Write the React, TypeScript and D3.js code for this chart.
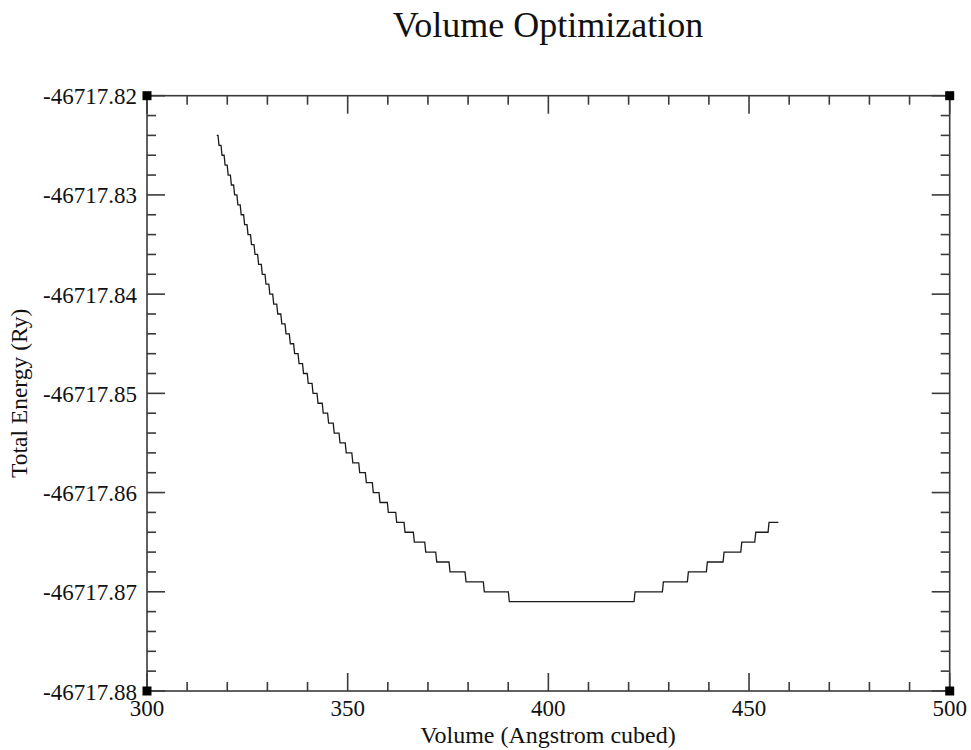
import React from "react";
import * as d3 from "d3";

// ---- data ----
const title = "Volume Optimization";
const xLabel = "Volume (Angstrom cubed)";
const yLabel = "Total Energy (Ry)";

const xDomain = [300, 500];
const yDomain = [-46717.88, -46717.82];
const xMajorTicks = [300, 350, 400, 450, 500];
const yMajorTicks = [-46717.88, -46717.87, -46717.86, -46717.85, -46717.84, -46717.83, -46717.82];

// energy level of each plateau of the (0.001 Ry quantised) curve
const levelEnergies = [
  -46717.824, -46717.825, -46717.826, -46717.827, -46717.828, -46717.829,
  -46717.83, -46717.831, -46717.832, -46717.833, -46717.834, -46717.835,
  -46717.836, -46717.837, -46717.838, -46717.839, -46717.84, -46717.841,
  -46717.842, -46717.843, -46717.844, -46717.845, -46717.846, -46717.847,
  -46717.848, -46717.849, -46717.85, -46717.851, -46717.852, -46717.853,
  -46717.854, -46717.855, -46717.856, -46717.857, -46717.858, -46717.859,
  -46717.86, -46717.861, -46717.862, -46717.863, -46717.864, -46717.865,
  -46717.866, -46717.867, -46717.868, -46717.869, -46717.87, -46717.871,
  -46717.87, -46717.869, -46717.868, -46717.867, -46717.866, -46717.865,
  -46717.864, -46717.863,
];
// volume where each plateau begins
const levelStartVolumes = [
  317.37, 317.94, 318.69, 319.46, 320.23, 321.03,
  321.83, 322.65, 323.47, 324.32, 325.17, 326.04,
  326.91, 327.81, 328.73, 329.65, 330.6, 331.57,
  332.57, 333.59, 334.64, 335.71, 336.78, 337.88,
  339.0, 340.17, 341.37, 342.61, 343.91, 345.25,
  346.65, 348.09, 349.64, 351.28, 353.0, 354.65,
  356.39, 358.06, 360.13, 362.22, 364.29, 366.61,
  369.45, 372.19, 375.5, 379.49, 384.05, 390.28,
  421.6, 428.66, 434.89, 439.62, 443.78, 448.19,
  451.68, 454.99,
];
const lastVolume = 457.31;
const volumeSpacing = 0.25; // sampling step of the source data

// ---- layout ----
const W = 971;
const H = 750;
const left = 147;
const right = 949.7;
const top = 95.7;
const bottom = 691;
const serif = "'Liberation Serif', 'Times New Roman', serif";

export default function App() {
  const x = d3.scaleLinear().domain(xDomain).range([left, right]);
  const y = d3.scaleLinear().domain(yDomain).range([bottom, top]);

  const pts: [number, number][] = [];
  levelEnergies.forEach((e, i) => {
    const start = levelStartVolumes[i];
    const end = i < levelEnergies.length - 1 ? levelStartVolumes[i + 1] - volumeSpacing : lastVolume;
    pts.push([start, e]);
    pts.push([end, e]);
  });
  const line = d3
    .line<[number, number]>()
    .x((d) => x(d[0]))
    .y((d) => y(d[1]))
    .curve(d3.curveLinear);

  const xMinor = d3.range(300, 501, 10).filter((v) => v % 50 !== 0);
  const yMinorIdx = d3.range(0, 31).filter((i) => i % 5 !== 0); // 0.002 steps
  const yMinor = yMinorIdx.map((i) => yDomain[0] + i * 0.002);

  const axisColor = "#3a3a3a";
  const majorLen = 18;
  const minorLen = 9;
  const corner = 9;

  return (
    <svg width={W} height={H} style={{ position: "absolute", left: 0, top: 0, background: "#fff" }}>
      <rect x={0} y={0} width={W} height={H} fill="#fff" />
      <text x={548} y={37} textAnchor="middle" fontFamily={serif} fontSize={36} fill="#111">
        {title}
      </text>

      {/* frame */}
      <rect x={left} y={top} width={right - left} height={bottom - top} fill="none" stroke={axisColor} strokeWidth={1.6} />

      {/* x ticks bottom & top */}
      {xMajorTicks.map((v) => (
        <g key={"xm" + v}>
          <line x1={x(v)} x2={x(v)} y1={bottom} y2={bottom - majorLen} stroke={axisColor} strokeWidth={1.6} />
          <line x1={x(v)} x2={x(v)} y1={top} y2={top + majorLen} stroke={axisColor} strokeWidth={1.6} />
          <text x={x(v)} y={716} textAnchor="middle" fontFamily={serif} fontSize={23} fill="#111">
            {v}
          </text>
        </g>
      ))}
      {xMinor.map((v) => (
        <g key={"xn" + v}>
          <line x1={x(v)} x2={x(v)} y1={bottom} y2={bottom - minorLen} stroke={axisColor} strokeWidth={1.6} />
          <line x1={x(v)} x2={x(v)} y1={top} y2={top + minorLen} stroke={axisColor} strokeWidth={1.6} />
        </g>
      ))}

      {/* y ticks left & right */}
      {yMajorTicks.map((v) => (
        <g key={"ym" + v}>
          <line x1={left} x2={left + majorLen} y1={y(v)} y2={y(v)} stroke={axisColor} strokeWidth={1.6} />
          <line x1={right} x2={right - majorLen} y1={y(v)} y2={y(v)} stroke={axisColor} strokeWidth={1.6} />
          <text x={137} y={y(v)} dy={8.5} textAnchor="end" fontFamily={serif} fontSize={23} fill="#111">
            {v.toFixed(2)}
          </text>
        </g>
      ))}
      {yMinor.map((v, i) => (
        <g key={"yn" + i}>
          <line x1={left} x2={left + minorLen} y1={y(v)} y2={y(v)} stroke={axisColor} strokeWidth={1.6} />
          <line x1={right} x2={right - minorLen} y1={y(v)} y2={y(v)} stroke={axisColor} strokeWidth={1.6} />
        </g>
      ))}

      {/* corner markers */}
      {[
        [xDomain[0], yDomain[0]],
        [xDomain[1], yDomain[0]],
        [xDomain[0], yDomain[1]],
        [xDomain[1], yDomain[1]],
      ].map(([cx, cy], i) => (
        <rect key={"c" + i} x={x(cx) - corner / 2} y={y(cy) - corner / 2} width={corner} height={corner} fill="#000" />
      ))}

      {/* curve */}
      <path d={line(pts) || ""} fill="none" stroke="#1a1a1a" strokeWidth={1.3} />

      {/* axis labels */}
      <text x={548} y={743} textAnchor="middle" fontFamily={serif} fontSize={24} fill="#111">
        {xLabel}
      </text>
      <text
        transform={`translate(27, ${(top + bottom) / 2}) rotate(-90)`}
        textAnchor="middle"
        fontFamily={serif}
        fontSize={23.5}
        fill="#111"
      >
        {yLabel}
      </text>
    </svg>
  );
}
